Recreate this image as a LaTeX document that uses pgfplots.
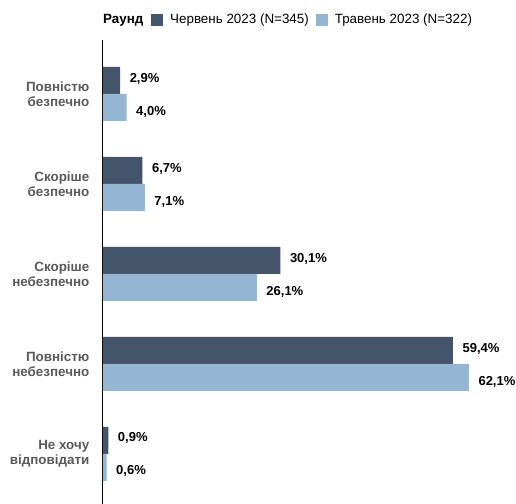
\documentclass[border=0pt]{standalone}
\usepackage{pgfplots}
\pgfplotsset{compat=1.18}
\usepackage{fontspec}
\setmainfont{Liberation Sans}
\definecolor{darkbar}{HTML}{44546A}
\definecolor{lightbar}{HTML}{94B6D2}
\definecolor{catgray}{HTML}{595959}
\begin{document}
\fontsize{13.4bp}{16bp}\selectfont
\begin{tikzpicture}
\path[use as bounding box] (-103bp,0) rectangle (413bp,504bp);
\begin{axis}[
  name=ax,
  at={(0,0)}, anchor=south west,
  scale only axis,
  width=413bp, height=464bp,
  xbar,
  xmin=0, xmax=70.1,
  ymin=-0.556, ymax=4.6,
  axis x line=none,
  axis y line*=left,
  y axis line style={black, line width=1bp},
  ytick={0,1,2,3,4},
  yticklabels={{Не хочу\\відповідати},{Повністю\\небезпечно},{Скоріше\\небезпечно},{Скоріше\\безпечно},{Повністю\\безпечно}},
  major tick length=0,
  yticklabel style={align=right, font=\fontsize{13.4bp}{15.5bp}\selectfont\bfseries, text=catgray, xshift=-9bp},
  bar width=0.3,
  /pgf/number format/assume math mode=true,
  nodes near coords={\pgfmathprintnumber[fixed,fixed zerofill,precision=1,use comma,assume math mode=true]{\pgfplotspointmeta}\%},
  nodes near coords style={anchor=west, font=\fontsize{13bp}{15bp}\selectfont\bfseries, text=black, xshift=5bp},
  legend columns=2,
  legend style={at={(0,1)}, anchor=west, xshift=45bp, yshift=20bp, draw=none, fill=none,
    font=\fontsize{13.4bp}{15bp}\selectfont,
    /tikz/every even column/.append style={column sep=5bp}},
]
\addplot[draw=none, fill=darkbar, bar shift=0.15,
  every node near coord/.append style={yshift=2bp},
  legend image code/.code={\fill[darkbar] (0bp,-6bp) rectangle (12bp,6bp);\path (17bp,0);}]
  coordinates {(0.9,0) (59.4,1) (30.1,2) (6.7,3) (2.9,4)};
\addlegendentry{Червень 2023 (N=345)}
\addplot[draw=none, fill=lightbar, bar shift=-0.15,
  every node near coord/.append style={yshift=-4bp},
  legend image code/.code={\fill[lightbar] (0bp,-6bp) rectangle (12bp,6bp);\path (17bp,0);}]
  coordinates {(0.6,0) (62.1,1) (26.1,2) (7.1,3) (4.0,4)};
\addlegendentry{Травень 2023 (N=322)}
\end{axis}
\node[anchor=west, font=\fontsize{13.4bp}{15bp}\selectfont\bfseries, inner sep=0pt] at ([yshift=20bp]ax.north west) {Раунд};
\end{tikzpicture}
\end{document}
